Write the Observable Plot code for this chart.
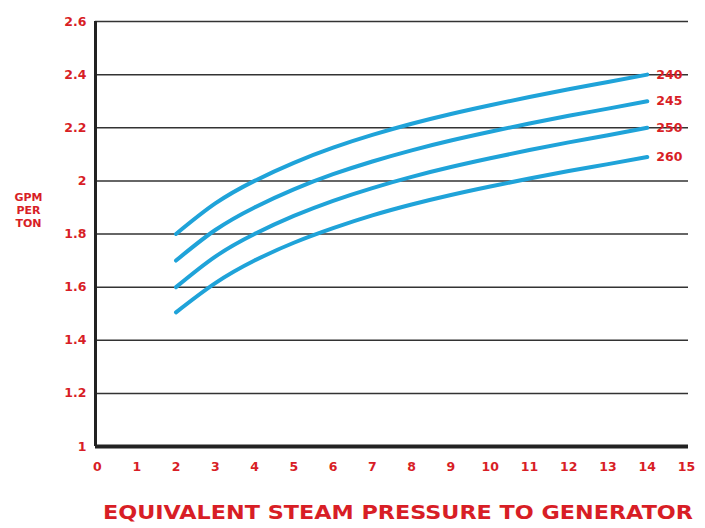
<!DOCTYPE html>
<html>
<head>
<meta charset="utf-8">
<script src="https://cdn.jsdelivr.net/npm/d3@7"></script>
<script src="https://cdn.jsdelivr.net/npm/@observablehq/plot@0.6"></script>
<style>
  html, body { margin: 0; padding: 0; background: #fff; }
  #chart svg { display: block; }
</style>
</head>
<body>
<div id="chart"></div>
<script>
const pressure = [2, 3, 4, 5, 6, 7, 8, 9, 10, 11, 12, 13, 14];
const gpm240 = [1.80, 1.915, 2.00, 2.068, 2.125, 2.173, 2.215, 2.252, 2.285, 2.316, 2.345, 2.372, 2.40];
const gpm245 = [1.70, 1.815, 1.90, 1.968, 2.025, 2.073, 2.115, 2.152, 2.185, 2.216, 2.245, 2.272, 2.30];
const gpm250 = [1.60, 1.715, 1.80, 1.868, 1.925, 1.973, 2.015, 2.052, 2.085, 2.116, 2.145, 2.172, 2.20];
const gpm260 = [1.505, 1.615, 1.70, 1.767, 1.822, 1.870, 1.911, 1.947, 1.979, 2.009, 2.037, 2.063, 2.09];
const seriesNames = ["240", "245", "250", "260"];
const xTicks = [0, 1, 2, 3, 4, 5, 6, 7, 8, 9, 10, 11, 12, 13, 14, 15];
const yTicks = [1, 1.2, 1.4, 1.6, 1.8, 2, 2.2, 2.4, 2.6];
const xTitle = "EQUIVALENT STEAM PRESSURE TO GENERATOR";
const yTitle = "GPM\nPER\nTON";

const seriesValues = [gpm240, gpm245, gpm250, gpm260];
const data = [];
seriesNames.forEach((s, i) => pressure.forEach((p, j) => data.push({series: s, x: p, y: seriesValues[i][j]})));
const lastPoints = seriesNames.map((s, i) => ({series: s, x: pressure[pressure.length - 1], y: seriesValues[i][pressure.length - 1]}));

const red = "#d81e26";
const labelFont = "'DejaVu Sans', sans-serif";
const xDomain = [-0.05, 15.05];
const yDomain = [1, 2.6];

const chart = Plot.plot({
  width: 705,
  height: 528,
  marginTop: 21,
  marginBottom: 82,
  marginLeft: 95,
  marginRight: 17,
  style: {fontFamily: labelFont, background: "#fff"},
  x: {domain: xDomain},
  y: {domain: yDomain},
  marks: [
    Plot.ruleY(yTicks.slice(1), {y: d => d, stroke: "#333", strokeWidth: 1.5}),
    Plot.ruleX([xDomain[0]], {stroke: "#222", strokeWidth: 3}),
    Plot.ruleY([yDomain[0]], {stroke: "#222", strokeWidth: 4}),
    Plot.axisY({ticks: yTicks, tickSize: 0, tickPadding: 9, tickFormat: d => String(+d.toFixed(1)),
      fill: red, fontWeight: "bold", fontSize: 12.5, label: null}),
    Plot.axisX({ticks: xTicks, tickSize: 0, tickPadding: 16, tickFormat: d => String(d),
      fill: red, fontWeight: "bold", fontSize: 12.5, label: null}),
    Plot.line(data, {x: "x", y: "y", z: "series", curve: "natural", stroke: "#1fa3d9", strokeWidth: 4, strokeLinecap: "round"}),
    Plot.text(lastPoints, {x: "x", y: "y", text: "series", dx: 9, textAnchor: "start", fill: red, fontWeight: "bold", fontSize: 12.5}),
    Plot.text([xTitle], {frameAnchor: "bottom", dx: 6, dy: 72, fill: red, fontWeight: "bold", fontSize: 20, className: "xtitle"}),
    Plot.text([yTitle], {y: [1.89], frameAnchor: "left", textAnchor: "middle", dx: -67, fill: red, fontWeight: "bold", fontSize: 11, lineHeight: 1.18})
  ]
});
document.getElementById("chart").appendChild(chart);
const t = Array.from(chart.querySelectorAll("text")).find(e => e.textContent === xTitle);
if (t) { t.setAttribute("textLength", "590"); t.setAttribute("lengthAdjust", "spacingAndGlyphs"); }
</script>
</body>
</html>
